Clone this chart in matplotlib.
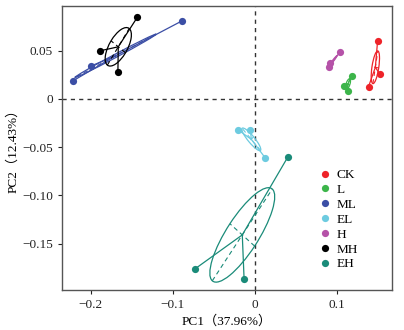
import numpy as np
import matplotlib
matplotlib.use('Agg')
import matplotlib.pyplot as plt
from matplotlib.patches import Ellipse
from matplotlib.lines import Line2D

plt.rcParams['font.family'] = ['Liberation Serif', 'Noto Sans CJK SC']
plt.rcParams['mathtext.fontset'] = 'stix'

groups = ['CK', 'L', 'ML', 'EL', 'H', 'MH', 'EH']
colors = ['#ee2329', '#3cb54a', '#3b4ea5', '#6dcbe0', '#b552a8', '#000000', '#1a8b79']

# PCA scores (PC1, PC2)
ck_x = [0.1496, 0.1524, 0.1386]
ck_y = [0.0600, 0.0255, 0.0128]
l_x = [0.1179, 0.1089, 0.1138]
l_y = [0.0242, 0.0135, 0.0083]
ml_x = [-0.2216, -0.1992, -0.0882]
ml_y = [0.0186, 0.0342, 0.0810]
el_x = [-0.0203, -0.0053, 0.0130]
el_y = [-0.0321, -0.0321, -0.0614]
h_x = [0.1037, 0.0915, 0.0906]
h_y = [0.0483, 0.0370, 0.0329]
mh_x = [-0.1430, -0.1890, -0.1667]
mh_y = [0.0846, 0.0497, 0.0276]
eh_x = [0.0406, -0.0732, -0.0130]
eh_y = [-0.0597, -0.1763, -0.1866]

xs = [ck_x, l_x, ml_x, el_x, h_x, mh_x, eh_x]
ys = [ck_y, l_y, ml_y, el_y, h_y, mh_y, eh_y]

ell_scale = 0.85

fig = plt.figure(figsize=(4.04, 3.30), dpi=100)
ax = fig.add_axes([0.153, 0.121, 0.817, 0.861])

ax.axhline(0, color='#333333', ls=(0, (3, 3)), lw=1.0, zorder=1)
ax.axvline(0, color='#333333', ls=(0, (3, 3)), lw=1.0, zorder=1)

for name, c, gx, gy in zip(groups, colors, xs, ys):
    gx = np.array(gx)
    gy = np.array(gy)
    mx, my = gx.mean(), gy.mean()
    # star lines to the centroid
    for px, py in zip(gx, gy):
        ax.plot([mx, px], [my, py], color=c, lw=0.9, zorder=2)
    # ellipse from the group covariance
    cov = np.cov(np.vstack([gx, gy]), ddof=0)
    vals, vecs = np.linalg.eigh(cov)
    vals = np.clip(vals, 0, None)
    a = ell_scale * np.sqrt(vals[1])
    b = ell_scale * np.sqrt(vals[0])
    ang = np.degrees(np.arctan2(vecs[1, 1], vecs[0, 1]))
    ax.add_patch(Ellipse((mx, my), 2 * a, 2 * b, angle=ang, fill=False,
                         edgecolor=c, lw=0.9, zorder=2))
    # ellipse axes, dashed
    for k, r in ((1, a), (0, b)):
        v = vecs[:, k]
        ax.plot([mx - r * v[0], mx + r * v[0]], [my - r * v[1], my + r * v[1]],
                color=c, lw=0.8, ls=(0, (4, 3)), zorder=2)
    ax.plot(gx, gy, 'o', color=c, ms=5.2, mec='none', zorder=3)

ax.set_xlim(-0.235, 0.167)
ax.set_ylim(-0.198, 0.0963)
ax.set_xticks([-0.2, -0.1, 0, 0.1])
ax.set_xticklabels(['\u22120.2', '\u22120.1', '0', '0.1'])
ax.set_yticks([-0.15, -0.10, -0.05, 0, 0.05])
ax.set_yticklabels(['\u22120.15', '\u22120.10', '\u22120.05', '0', '0.05'])
ax.tick_params(direction='out', length=3, width=0.8, labelsize=9.5, colors='#222222')
for s in ax.spines.values():
    s.set_color('#555555')
    s.set_linewidth(1.0)

ax.set_xlabel('PC1\uff0837.96%\uff09', fontsize=9.5, labelpad=3)
ax.set_ylabel('PC2\uff0812.43%\uff09', fontsize=9.5, labelpad=2)

handles = [Line2D([], [], marker='o', ls='none', color=c, ms=5.2, mec='none') for c in colors]
ax.legend(handles, groups, loc='upper left', bbox_to_anchor=(0.758, 0.445),
          frameon=False, fontsize=9.5, handletextpad=0.25, labelspacing=0.2,
          handlelength=1.2, borderaxespad=0)

fig.savefig('out.png', dpi=100)
